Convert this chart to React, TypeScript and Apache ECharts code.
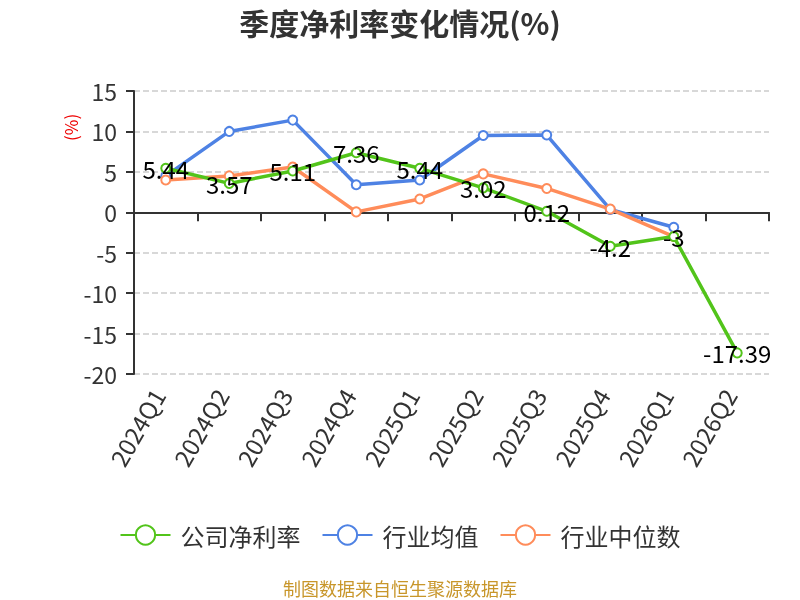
import React, { useEffect, useRef } from "react";
import * as echarts from "echarts";

const categories = ["2024Q1", "2024Q2", "2024Q3", "2024Q4", "2025Q1", "2025Q2", "2025Q3", "2025Q4", "2026Q1", "2026Q2"];
const companyValues = [5.44, 3.57, 5.11, 7.36, 5.44, 3.02, 0.12, -4.2, -3, -17.39];
const industryAvg = [4.5, 10.0, 11.4, 3.4, 4.0, 9.5, 9.55, 0.35, -1.85, null];
const industryMedian = [4.0, 4.5, 5.6, 0.05, 1.65, 4.75, 2.95, 0.4, -3.0, null];
const yTicks = { min: -20, max: 15, interval: 5 };

const FONT = "'Noto Sans CJK SC', 'Noto Sans', sans-serif";

export default function App() {
  const ref = useRef<HTMLDivElement>(null);
  useEffect(() => {
    if (!ref.current) return;
    const chart = echarts.init(ref.current, undefined, { renderer: "svg" });
    chart.setOption({
      animation: false,
      textStyle: { fontFamily: FONT },
      title: {
        text: "季度净利率变化情况(%)",
        left: "center",
        top: 2,
        textStyle: { fontSize: 30, fontWeight: "bold", color: "#333", fontFamily: FONT },
      },
      legend: {
        top: 518,
        left: "center",
        itemWidth: 50,
        itemHeight: 24,
        itemGap: 21,
        textStyle: { fontSize: 24, color: "#333", fontFamily: FONT, padding: [0, 0, 0, 5] },
        data: ["公司净利率", "行业均值", "行业中位数"],
      },
      grid: { left: 134, right: 31, top: 91, bottom: 226, containLabel: false },
      graphic: [
        {
          type: "text",
          x: 62,
          y: 141,
          rotation: Math.PI / 2,
          style: { text: "(%)", fill: "#e00", fontSize: 17, fontFamily: FONT },
        },
        {
          type: "text",
          x: 400,
          y: 588,
          style: {
            text: "制图数据来自恒生聚源数据库",
            fill: "#c8962a",
            fontSize: 18,
            fontFamily: FONT,
            align: "center",
            verticalAlign: "middle",
          },
        },
      ],
      xAxis: [
        {
          type: "category",
          data: categories,
          boundaryGap: true,
          axisLine: { onZero: true, lineStyle: { color: "#333", width: 2 } },
          axisTick: { show: true, length: 9, lineStyle: { color: "#333", width: 2 } },
          axisLabel: { show: false },
          splitLine: { show: false },
        },
        {
          type: "category",
          data: categories,
          position: "bottom",
          boundaryGap: true,
          axisLine: { show: false, onZero: false },
          axisTick: { show: false },
          axisLabel: {
            rotate: 60,
            fontSize: 24,
            lineHeight: 18,
            verticalAlign: "bottom",
            color: "#333",
            margin: 21,
            fontFamily: FONT,
          },
          splitLine: { show: false },
        },
      ],
      yAxis: {
        type: "value",
        min: yTicks.min,
        max: yTicks.max,
        interval: yTicks.interval,
        axisLine: { show: true, lineStyle: { color: "#333", width: 2 } },
        axisTick: { show: true, length: 8, lineStyle: { color: "#333", width: 2 } },
        axisLabel: { fontSize: 23, color: "#333", margin: 17, fontFamily: FONT },
        splitLine: { show: true, lineStyle: { type: "dashed", color: "#ccc", width: 1.5 } },
      },
      series: [
        {
          name: "公司净利率",
          type: "line",
          xAxisIndex: 0,
          data: companyValues,
          symbol: "emptyCircle",
          symbolSize: 9,
          lineStyle: { width: 3.5, color: "#52c41a" },
          itemStyle: { color: "#52c41a", borderWidth: 2 },
          label: { show: true, position: "inside", fontSize: 24, color: "#000", fontFamily: FONT },
          z: 3,
        },
        {
          name: "行业均值",
          type: "line",
          xAxisIndex: 0,
          data: industryAvg,
          symbol: "emptyCircle",
          symbolSize: 9,
          lineStyle: { width: 3.5, color: "#4e82e4" },
          itemStyle: { color: "#4e82e4", borderWidth: 2 },
          z: 2,
        },
        {
          name: "行业中位数",
          type: "line",
          xAxisIndex: 0,
          data: industryMedian,
          symbol: "emptyCircle",
          symbolSize: 9,
          lineStyle: { width: 3.5, color: "#ff8c5a" },
          itemStyle: { color: "#ff8c5a", borderWidth: 2 },
          z: 2,
        },
      ],
    });
    return () => chart.dispose();
  }, []);
  return <div ref={ref} style={{ position: "fixed", left: 0, top: 0, width: 800, height: 600 }} />;
}
